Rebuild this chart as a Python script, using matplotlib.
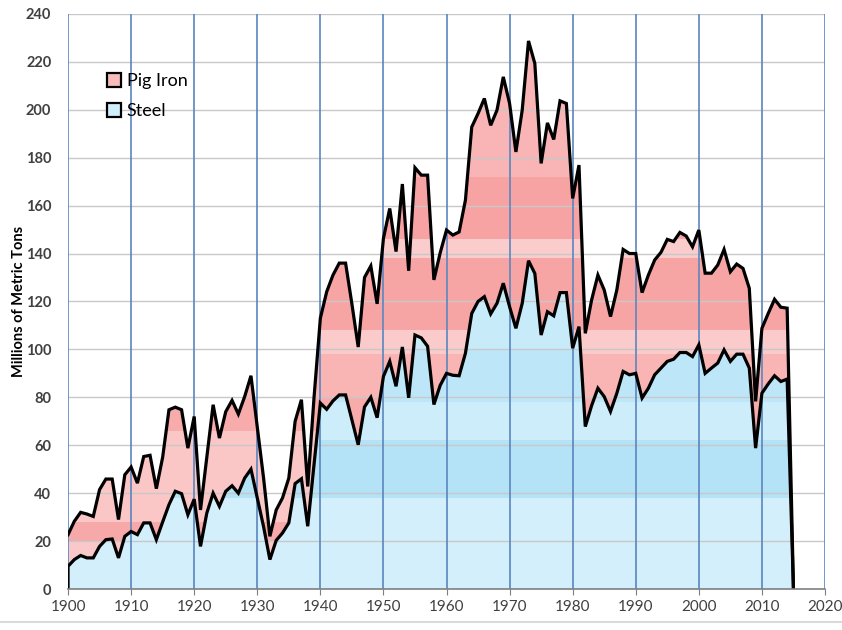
import numpy as np
import matplotlib
matplotlib.use("Agg")
from matplotlib import pyplot as plt
from matplotlib.colors import to_rgb
from matplotlib.patches import Patch, PathPatch

years = list(range(1900, 2016))

# millions of metric tons (steel at bottom, pig iron stacked on it)
steel = [9.5, 12.3, 14.0, 13.0, 13.0, 17.8, 20.6, 20.9, 13.0, 22.0,
         24.0, 22.7, 27.6, 27.6, 20.6, 28.0, 35.2, 40.8, 39.8, 31.0,
         37.5, 17.8, 31.7, 40.0, 34.5, 40.8, 43.1, 40.0, 46.3, 50.0,
         38.0, 26.0, 12.3, 20.3, 23.4, 27.6, 44.0, 46.0, 26.2, 52.0,
         77.6, 75.0, 78.5, 81.0, 81.0, 70.6, 60.2, 76.0, 80.0, 71.5,
         88.7, 95.0, 84.6, 101.0, 79.8, 106.0, 104.8, 101.3, 77.0, 85.0,
         90.0, 89.2, 89.0, 98.4, 115.0, 120.0, 122.0, 114.8, 119.2, 127.6,
         117.8, 108.8, 119.2, 137.0, 131.7, 106.0, 115.7, 114.0, 123.7, 123.7,
         100.5, 109.5, 67.8, 76.5, 83.8, 80.3, 74.1, 81.7, 90.8, 89.4,
         90.0, 79.7, 83.8, 89.4, 92.2, 95.0, 95.9, 98.7, 98.7, 97.0,
         101.9, 90.0, 92.2, 94.3, 99.8, 95.0, 98.0, 98.0, 92.2, 58.8,
         81.7, 85.6, 89.0, 86.6, 87.6, 0.0]

pig_iron = [13.2, 16.0, 18.0, 18.3, 17.3, 23.7, 25.3, 25.0, 16.0, 25.7,
            26.9, 21.5, 27.7, 28.2, 21.3, 27.0, 39.6, 35.1, 35.0, 27.8,
            34.5, 15.2, 23.3, 36.9, 28.5, 33.2, 35.6, 33.0, 34.0, 39.0,
            29.6, 20.3, 9.7, 12.7, 14.6, 18.7, 26.0, 33.0, 16.6, 28.0,
            35.4, 49.0, 52.5, 55.0, 55.0, 48.4, 40.8, 54.0, 54.8, 47.5,
            57.6, 63.8, 56.2, 68.0, 53.0, 69.8, 67.9, 71.4, 52.0, 55.3,
            59.8, 58.5, 60.0, 63.9, 77.8, 78.4, 82.7, 78.7, 80.6, 86.1,
            84.8, 73.6, 80.6, 91.7, 87.6, 71.6, 78.8, 73.6, 80.0, 78.9,
            62.5, 67.4, 38.9, 44.1, 47.2, 44.5, 39.6, 43.1, 50.9, 50.6,
            50.0, 44.0, 47.2, 47.9, 48.3, 50.9, 49.1, 50.1, 48.6, 45.8,
            47.9, 41.8, 39.6, 40.9, 41.9, 37.4, 37.6, 35.8, 33.3, 19.5,
            27.1, 29.4, 31.9, 31.0, 29.6, 0.0]

x = np.array(years)
s = np.array(steel)
total = s + np.array(pig_iron)

# excel-style banded texture fills
blue_bands = [(0, 38, "#d3effb"), (38, 62, "#b4e3f7"), (62, 78, "#cdedfa"),
              (78, 100, "#bde7f8"), (100, 240, "#c8ebf9")]
pink_bands = [(0, 20, "#fac8c8"), (20, 28, "#f7a8a8"), (28, 66, "#fac6c6"),
              (66, 80, "#f8abab"), (80, 98, "#f9b4b4"), (98, 108, "#fbcaca"),
              (108, 138, "#f7a4a4"), (138, 146, "#fbcccc"), (146, 172, "#f7a3a3"),
              (172, 240, "#f9b5b5")]


def textured_fill(ax, lo, hi, bands, z):
    poly = ax.fill_between(x, lo, hi, color="none", lw=0, zorder=z)
    clip = PathPatch(poly.get_paths()[0], transform=ax.transData, fc="none", ec="none")
    ax.add_patch(clip)
    yy = np.linspace(0, 240, 961)
    img = np.ones((len(yy), 1, 3))
    for b0, b1, c in bands:
        img[(yy >= b0) & (yy < b1)] = to_rgb(c)
    im = ax.imshow(img, extent=[1900, 2020, 0, 240], origin="lower", aspect="auto",
                   interpolation="nearest", zorder=z)
    im.set_clip_path(clip)


plt.rcParams["font.family"] = ["Lato", "DejaVu Sans"]
fig = plt.figure(figsize=(8.42, 6.30), dpi=100)
ax = fig.add_axes([0.0808, 0.065, 0.899, 0.913])

textured_fill(ax, np.zeros_like(s), s, blue_bands, 1)
textured_fill(ax, s, total, pink_bands, 1)

for yv in range(20, 241, 20):
    ax.axhline(yv, color="#c8c8c8", lw=1.0, zorder=2)
for xv in range(1900, 2021, 10):
    ax.axvline(xv, color="#5a86c0", lw=1.2, zorder=2.5)

ax.plot(x, total, color="black", lw=2.3, zorder=4, solid_joinstyle="miter")
ax.plot(np.r_[1900, x], np.r_[0, s], color="black", lw=2.3, zorder=4, solid_joinstyle="miter")

ax.set_xlim(1900, 2020)
ax.set_ylim(0, 240)
ax.set_xticks(range(1900, 2021, 10))
ax.set_yticks(range(0, 241, 20))
for sp in ["top", "right", "left"]:
    ax.spines[sp].set_visible(False)
ax.spines["bottom"].set_color("#7f7f7f")
ax.spines["bottom"].set_linewidth(1.2)
ax.spines["bottom"].set_zorder(5)
ax.tick_params(axis="x", length=4, color="#7f7f7f", labelsize=11, labelcolor="#404040", pad=4)
ax.tick_params(axis="y", length=0, labelsize=10.5, labelcolor="#404040", pad=12)
for lab in ax.get_yticklabels():
    lab.set_fontweight("bold")

ax.set_ylabel("Millions of Metric Tons", fontsize=10.5, fontweight="bold", labelpad=0)

handles = [Patch(facecolor="#f9bcbc", edgecolor="black", lw=1.6, label="Pig Iron"),
           Patch(facecolor="#cdeefb", edgecolor="black", lw=1.6, label="Steel")]
leg = ax.legend(handles=handles, loc="upper left", bbox_to_anchor=(0.03, 0.925),
                frameon=False, fontsize=13, handlelength=0.8, handleheight=0.8,
                handletextpad=0.3, labelspacing=0.75)
leg.set_zorder(6)

fig.add_artist(plt.Line2D([0, 1], [0.013, 0.013], color="#d9d9d9", lw=1.5))

plt.savefig("out.png", dpi=100)
